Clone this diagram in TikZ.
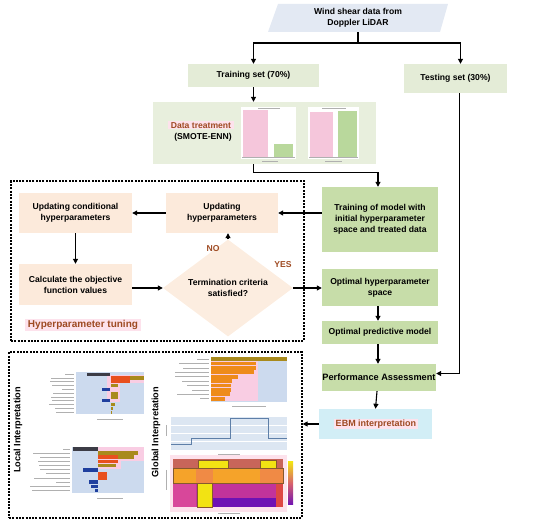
\documentclass[tikz,border=0pt]{standalone}
\usepackage{fontspec}
\setmainfont{Liberation Sans}
\usetikzlibrary{shapes.geometric,arrows.meta,calc}
\definecolor{parc}{HTML}{E3E9F3}
\definecolor{lgreen}{HTML}{E4ECD7}
\definecolor{dtgreen}{HTML}{E8EFDD}
\definecolor{peach}{HTML}{FCEADB}
\definecolor{mgreen}{HTML}{C7DDA9}
\definecolor{ebmblue}{HTML}{D2EEF6}
\definecolor{brn}{HTML}{9E4A22}
\definecolor{hlpink}{HTML}{FDE2EC}
\definecolor{chbg}{HTML}{CCDAEE}
\definecolor{chpink}{HTML}{F9CDE3}
\definecolor{olive}{HTML}{A88A1C}
\definecolor{cred}{HTML}{E8501E}
\definecolor{corange}{HTML}{EE8B1A}
\definecolor{cblue}{HTML}{1F3F9E}
\definecolor{cdark}{HTML}{3C3C46}
\definecolor{barpink}{HTML}{F5C6DB}
\definecolor{bargreen}{HTML}{B9D89C}
\definecolor{stepbg}{HTML}{DCE6F2}
\definecolor{stepln}{HTML}{5E7FA8}
\definecolor{hred}{HTML}{C8655A}
\definecolor{hyellow}{HTML}{F2E313}
\definecolor{horange}{HTML}{F5A32A}
\definecolor{horange2}{HTML}{F08A45}
\definecolor{hmag}{HTML}{C2339B}
\definecolor{hpink}{HTML}{D8479A}
\definecolor{hpurple}{HTML}{6E12B4}
\definecolor{labg}{HTML}{B0B0B0}
\tikzset{
  tx/.style={font=\fontsize{8.6}{11}\selectfont\bfseries, align=center},
  box/.style={tx, rectangle, inner sep=0pt},
  arr/.style={-{Triangle[length=5pt,width=5pt]}, line width=1.1pt},
  ln/.style={line width=1.1pt},
  dashbox/.style={draw, line width=1.2pt, dash pattern=on 2pt off 1.3pt, inner sep=0pt},
  lab/.style={labg, line width=0.9pt},
}
\begin{document}
\begin{tikzpicture}[x=1pt,y=-1pt]
\useasboundingbox (0,0) rectangle (550,526);
% top parallelogram
\fill[parc] (268,32) -- (278,4) -- (448,4) -- (440,32) -- cycle;
\node[box, minimum width=172pt, minimum height=28pt] (wind) at (358,18) {Wind shear data from\\Doppler LiDAR};
\coordinate (split) at (358,43);
% boxes
\node[box, fill=lgreen, minimum width=131pt, minimum height=23pt] (train) at (253.5,75.5) {Training set (70\%)};
\node[box, fill=lgreen, minimum width=103pt, minimum height=29pt] (test) at (455.5,78.5) {Testing set (30\%)};
\node[box, fill=dtgreen, minimum width=223pt, minimum height=62pt] (dt) at (264.5,133) {};
\node[box, fill=hlpink, text=brn, inner xsep=3pt, inner ysep=1pt] (dtl) at (201,125.5) {Data treatment};
\node[box] (smote) at (203,137) {(SMOTE-ENN)};
% small bar charts
\fill[white] (241,107) rectangle (296,159);
\fill[barpink] (243,110) rectangle (268,157);
\fill[bargreen] (274,144) rectangle (293,157);
\draw[labg, line width=0.3pt] (242,157.5) -- (295,157.5);
\draw[lab, line width=0.6pt] (258,108.5) -- (280,108.5);
\draw[lab, line width=0.6pt] (262,161) -- (278,161);
\fill[white] (308,107) rectangle (359,159);
\fill[barpink] (310,112) rectangle (333,157);
\fill[bargreen] (338,111) rectangle (357,157);
\draw[labg, line width=0.3pt] (309,157.5) -- (358,157.5);
\draw[lab, line width=0.6pt] (322,108.5) -- (346,108.5);
\draw[lab, line width=0.6pt] (325,161) -- (342,161);
% right column
\node[box, fill=mgreen, minimum width=116pt, minimum height=65pt] (tm) at (380,219.5) {Training of model with\\initial hyperparameter\\space and treated data};
\node[box, fill=mgreen, minimum width=116pt, minimum height=37pt] (oh) at (380,287.5) {Optimal hyperparameter\\space};
\node[box, fill=mgreen, minimum width=116pt, minimum height=23pt] (opm) at (380,332.5) {Optimal predictive model};
\node[box, fill=mgreen, minimum width=114pt, minimum height=27pt, font=\fontsize{9.2}{11}\selectfont\bfseries] (pa) at (379,377.5) {Performance Assessment};
\node[box, fill=ebmblue, minimum width=113pt, minimum height=30pt] (ebm) at (375.5,424) {};
\node[box, fill=hlpink, text=brn, inner xsep=2pt, inner ysep=1pt, font=\fontsize{9}{10}\selectfont\bfseries] (ebml) at (376,424) {EBM interpretation};
% tuning block
\node[dashbox, minimum width=293pt, minimum height=160pt] (tuning) at (157.5,261) {};
\node[box, fill=peach, minimum width=112pt, minimum height=40pt] (uhp) at (222,213) {Updating\\hyperparameters};
\node[box, fill=peach, minimum width=113pt, minimum height=40pt] (uch) at (75.5,213) {Updating conditional\\hyperparameters};
\node[box, fill=peach, minimum width=113pt, minimum height=41pt] (calc) at (75.5,284.5) {Calculate the objective\\function values};
\node[tx, diamond, fill=peach!85!white, minimum width=130pt, minimum height=64pt, inner sep=0pt] (term) at (228,288) {Termination criteria\\satisfied?};
\node[tx, text=brn] (no) at (213,248.5) {NO};
\node[tx, text=brn] (yes) at (283,265) {YES};
\node[box, fill=hlpink, text=brn, inner xsep=3pt, inner ysep=1.5pt, font=\fontsize{10}{11}\selectfont\bfseries] (tunl) at (83,325) {Hyperparameter tuning};
% connectors
\draw[ln] (wind.south) -- (split);
\draw[arr] (split) -| (train.north);
\draw[arr] (split) -| ([xshift=5pt]test.north);
\draw[arr] (train.south) -- (train.south |- dt.north);
\draw[arr] (train.south |- dt.south) -- ++(0,8) -| ([xshift=-2pt]tm.north);
\draw[arr] (tm.west |- uhp.east) -- (uhp.east);
\draw[arr] (uhp.west) -- (uch.east);
\draw[arr] (uch.south) -- (calc.north);
\draw[arr] (calc.east |- term.west) -- (term.west);
\draw[arr] (term.north) -- (term.north |- uhp.south);
\draw[arr] (term.east) -- (oh.west |- term.east);
\draw[arr] ([xshift=-2pt]oh.south) -- ([xshift=-2pt]opm.north);
\draw[arr] ([xshift=-2pt]opm.south) -- ([xshift=-1pt]pa.north);
\draw[arr] ([xshift=4pt]test.south) |- ([yshift=4pt]pa.east);
\draw[arr] ([xshift=-2pt]pa.south) -- ([xshift=0pt]ebm.north);
% interpretation block
\node[dashbox, minimum width=293pt, minimum height=166pt] (interp) at (155.5,435) {};
\draw[arr] (ebm.west) -- (ebm.west -| interp.east);
\node[tx, rotate=90, font=\fontsize{9.2}{11}\selectfont\bfseries] (locl) at (18,430) {Local Interpretation};
\node[tx, rotate=90, font=\fontsize{9.2}{11}\selectfont\bfseries] (globl) at (156,432) {Global Interpretation};
% local chart 1
\fill[chbg] (76,372) rectangle (144,414);
\fill[chpink] (107,375) rectangle (144,383);
\fill[chpink] (107,383) rectangle (120,402);
\foreach \i/\a/\b/\c in {0/86.8/110/cdark, 1/110.6/129.5/cred, 2/110.6/129.5/cred, 3/110.6/118.3/olive, 4/101.6/110/cblue, 5/110.6/118.3/olive, 6/110.6/118.3/olive, 7/101.6/110/cblue, 8/110.6/114.6/olive, 9/110.6/113/olive, 10/110.6/112/olive}
  \fill[\c] (\a,372.6+3.8*\i) rectangle (\b,375.9+3.8*\i);
\fill[olive] (129.5,376.4) rectangle (144,379.7);
\foreach \i/\l in {0/9,1/23,2/24,3/22,4/12,5/21,6/23,7/22,8/25,9/19,10/18}
  \draw[lab, line width=0.6pt] (74-\l,374.2+3.8*\i) -- (74,374.2+3.8*\i);
\draw[lab, line width=0.6pt] (97,419.5) -- (123,419.5);
% local chart 2
\fill[chbg] (72,447) rectangle (144,493);
\fill[chpink] (97.5,447) rectangle (144,461);
\fill[chpink] (97.5,461) rectangle (121,469);
\foreach \i/\a/\b/\c in {0/72.9/97.5/cdark, 1/98.1/138/olive, 2/98.1/133.5/olive, 3/98.1/117.9/cred, 4/98.1/116.1/olive, 5/82.5/97.5/cblue, 6/98.1/107.4/cred, 7/98.1/106.5/cred, 8/89.1/97.5/cblue, 9/90.9/97.5/cblue, 10/94.5/97.5/cblue}
  \fill[\c] (\a,447.2+4.15*\i) rectangle (\b,450.8+4.15*\i);
\fill[cred] (98.1,455.5) rectangle (118,459.1);
\foreach \i/\l in {0/7,1/37,2/30,3/32,4/31,5/30,6/24,7/36,8/14,9/40,10/38}
  \draw[lab, line width=0.6pt] (70-\l,448.9+4.15*\i) -- (70,448.9+4.15*\i);
\draw[lab, line width=0.6pt] (97,498) -- (123,498);
% global chart 1
\fill[chbg] (211,357) rectangle (287,402);
\fill[chpink] (211,361) rectangle (258,401);
\foreach \i/\e in {0/287,1/255.5,2/255.5,3/253.6,4/238,5/232,6/231.4,7/231.4,8/229.5,9/224.7}
  \fill[corange] (211,357.2+4.41*\i) rectangle (\e,360.9+4.41*\i);
\fill[olive] (211,357.2) rectangle (287,360.9);
\foreach \i/\l in {0/12,1/30,2/26,3/34,4/34,5/27,6/22,7/17,8/32,9/9}
  \draw[lab, line width=0.6pt] (209-\l,359+4.41*\i) -- (209,359+4.41*\i);
\draw[lab, line width=0.6pt] (232,406) -- (266,406);
% global chart 2 (step)
\fill[stepbg] (171,417) rectangle (287,450);
\foreach \y in {425,433,441} \draw[white, line width=0.4pt] (171,\y) -- (287,\y);
\draw[stepln, line width=1pt] (171,445) -- (191,445) -- (191,439) -- (230,439) -- (230,419) -- (268,419) -- (268,439) -- (287,439);
\draw[lab, line width=0.6pt] (218,454) -- (240,454);
\draw[lab, line width=0.6pt] (166,425) -- (166,436);
% heatmap
\fill[hlpink] (170,455) rectangle (287,512);
\fill[hred] (173,459) rectangle (283,468);
\fill[horange] (173,468) rectangle (283,483);
\fill[horange2] (196,468) rectangle (213,483);
\fill[horange2] (260,468) rectangle (283,483);
\fill[hmag] (173,483) rectangle (283,507);
\fill[hpink] (173,483) rectangle (196,507);
\fill[hpurple] (212,498) rectangle (276,507);
\fill[cred!70!hmag] (276,483) rectangle (283,507);
\draw[brown!70!black, line width=0.6pt] (173,468) rectangle (283,483);
\fill[hyellow] (198,460) rectangle (228,468);
\draw[brown!70!black, line width=0.5pt] (198,460) rectangle (228,468);
\fill[hyellow] (260,460) rectangle (276,468);
\draw[brown!70!black, line width=0.5pt] (260,460) rectangle (276,468);
\fill[hyellow] (197,483) rectangle (212,507);
\draw[brown!70!black, line width=0.5pt] (197,483) rectangle (212,507);
\shade[top color=hyellow, bottom color=hpurple, middle color=hmag!60!horange] (288,462) rectangle (293,505);
\draw[lab, line width=0.6pt] (218,513) -- (240,513);
\draw[lab, line width=0.6pt] (166,470) -- (166,490);
\end{tikzpicture}
\end{document}
